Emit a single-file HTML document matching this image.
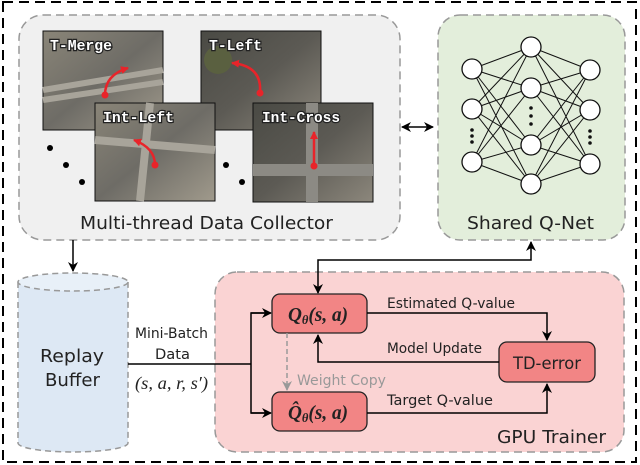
<!DOCTYPE html>
<html><head><meta charset="utf-8"><style>
html,body{margin:0;padding:0;background:#fff;}
svg{display:block;font-family:"DejaVu Sans","Liberation Sans",sans-serif;}
.lbl{font-family:"Liberation Mono",monospace;font-weight:bold;font-size:15px;fill:#fff;stroke:#222;stroke-width:2.5px;paint-order:stroke;}
</style></head><body>
<svg width="640" height="465" viewBox="0 0 640 465" xmlns="http://www.w3.org/2000/svg">
<defs>
<marker id="ah" markerWidth="10" markerHeight="10" refX="9" refY="5" orient="auto-start-reverse" markerUnits="userSpaceOnUse"><path d="M0,0 L10,5 L0,10 L3,5 z" fill="#000"/></marker>
<marker id="ahg" markerWidth="10" markerHeight="10" refX="9" refY="5" orient="auto" markerUnits="userSpaceOnUse"><path d="M0,0 L10,5 L0,10 L3,5 z" fill="#999"/></marker>
<marker id="ahr" markerWidth="8" markerHeight="8" refX="7" refY="4" orient="auto" markerUnits="userSpaceOnUse"><path d="M0,0 L8,4 L0,8 z" fill="#e8242a"/></marker>
<linearGradient id="img1" x1="0" y1="0" x2="1" y2="1"><stop offset="0" stop-color="#8a8578"/><stop offset="0.5" stop-color="#6e6c66"/><stop offset="1" stop-color="#a09a8c"/></linearGradient>
<linearGradient id="img2" x1="0" y1="0" x2="1" y2="1"><stop offset="0" stop-color="#4a4a44"/><stop offset="0.5" stop-color="#5c5a54"/><stop offset="1" stop-color="#8c877c"/></linearGradient>
</defs>
<rect x="3" y="2" width="633" height="460" fill="none" stroke="#000" stroke-width="2" stroke-dasharray="10,6"/>

<!-- collector -->
<rect x="19" y="15" width="381" height="225" rx="24" fill="#f0f0f0" stroke="#999" stroke-width="1.5" stroke-dasharray="8,5"/>
<rect x="43" y="31" width="120" height="99" fill="url(#img1)" stroke="#111" stroke-width="1"/>
<path d="M43,90 L163,70 M43,100 L163,82" stroke="#a8a49a" stroke-width="6"/>
<text x="50" y="50" class="lbl" textLength="62" lengthAdjust="spacingAndGlyphs">T-Merge</text>
<path d="M105,95 Q105,75 128,68" fill="none" stroke="#e8242a" stroke-width="2.5" marker-end="url(#ahr)"/>
<circle cx="105" cy="95" r="3.5" fill="#e8242a"/>
<rect x="201" y="31" width="120" height="99" fill="url(#img2)" stroke="#111" stroke-width="1"/>
<circle cx="218" cy="60" r="14" fill="#5a6040"/>
<text x="209" y="50" class="lbl" textLength="53" lengthAdjust="spacingAndGlyphs">T-Left</text>
<path d="M260,92 Q262,66 232,63" fill="none" stroke="#e8242a" stroke-width="2.5" marker-end="url(#ahr)"/>
<circle cx="260" cy="93" r="3.5" fill="#e8242a"/>
<rect x="95" y="103" width="120" height="98" fill="url(#img1)" stroke="#111" stroke-width="1"/>
<path d="M95,140 L215,150 M150,103 L140,201" stroke="#a8a49a" stroke-width="8"/>
<text x="103" y="122" class="lbl" textLength="71" lengthAdjust="spacingAndGlyphs">Int-Left</text>
<path d="M155,165 Q155,148 134,140" fill="none" stroke="#e8242a" stroke-width="2.5" marker-end="url(#ahr)"/>
<circle cx="155" cy="165" r="3.5" fill="#e8242a"/>
<rect x="253" y="103" width="120" height="99" fill="url(#img2)" stroke="#111" stroke-width="1"/>
<path d="M253,170 L373,170 M312,103 L312,202" stroke="#8c8a84" stroke-width="12"/>
<text x="262" y="122" class="lbl" textLength="78" lengthAdjust="spacingAndGlyphs">Int-Cross</text>
<path d="M314,166 L314,132" stroke="#e8242a" stroke-width="2.5" marker-end="url(#ahr)"/>
<circle cx="314" cy="166" r="3.5" fill="#e8242a"/>
<circle cx="50" cy="148" r="3" fill="#000"/><circle cx="66" cy="165" r="3" fill="#000"/><circle cx="82" cy="182" r="3" fill="#000"/>
<circle cx="226" cy="165" r="3" fill="#000"/><circle cx="242" cy="182" r="3" fill="#000"/>
<text x="80" y="229" font-size="18" textLength="253" lengthAdjust="spacingAndGlyphs" fill="#222">Multi-thread Data Collector</text>

<!-- double arrow -->
<line x1="402" y1="127" x2="433" y2="127" stroke="#000" stroke-width="1.5" marker-start="url(#ah)" marker-end="url(#ah)"/>

<!-- qnet -->
<rect x="438" y="15" width="187" height="225" rx="22" fill="#e3eedb" stroke="#999" stroke-width="1.5" stroke-dasharray="8,5"/>
<g stroke="#111" stroke-width="1">
<path d="M472,69L531,47M472,69L531,88M472,69L531,145M472,69L531,184M472,109L531,47M472,109L531,88M472,109L531,145M472,109L531,184M472,162L531,47M472,162L531,88M472,162L531,145M472,162L531,184M531,47L590,70M531,47L590,110M531,47L590,164M531,88L590,70M531,88L590,110M531,88L590,164M531,145L590,70M531,145L590,110M531,145L590,164M531,184L590,70M531,184L590,110M531,184L590,164"/>
</g>
<g fill="#fff" stroke="#111" stroke-width="1.3">
<circle cx="472" cy="69" r="10"/><circle cx="472" cy="109" r="10"/><circle cx="472" cy="162" r="10"/>
<circle cx="531" cy="47" r="10"/><circle cx="531" cy="88" r="10"/><circle cx="531" cy="145" r="10"/><circle cx="531" cy="184" r="10"/>
<circle cx="590" cy="70" r="10"/><circle cx="590" cy="110" r="10"/><circle cx="590" cy="164" r="10"/>
</g>
<g fill="#111"><circle cx="472" cy="130" r="1.8"/><circle cx="472" cy="136" r="1.8"/><circle cx="472" cy="142" r="1.8"/>
<circle cx="531" cy="108" r="1.8"/><circle cx="531" cy="116" r="1.8"/><circle cx="531" cy="124" r="1.8"/>
<circle cx="590" cy="131" r="1.8"/><circle cx="590" cy="137" r="1.8"/><circle cx="590" cy="143" r="1.8"/></g>
<text x="467" y="229" font-size="18" textLength="127" lengthAdjust="spacingAndGlyphs" fill="#222">Shared Q-Net</text>

<!-- collector -> buffer -->
<line x1="73" y1="240" x2="73" y2="271" stroke="#000" stroke-width="1.5" marker-end="url(#ah)"/>

<!-- buffer -->
<path d="M18,282 L18,443 A55,9 0 0 0 128,443 L128,282" fill="#dde8f4" stroke="#999" stroke-width="1.5" stroke-dasharray="6,4"/>
<ellipse cx="73" cy="282" rx="55" ry="9" fill="#e8f0f8" stroke="#999" stroke-width="1.5" stroke-dasharray="6,4"/>
<text x="40" y="362" font-size="18" textLength="64" lengthAdjust="spacingAndGlyphs" fill="#222">Replay</text>
<text x="45" y="386" font-size="18" textLength="55" lengthAdjust="spacingAndGlyphs" fill="#222">Buffer</text>
<text x="135" y="338" font-size="14" textLength="73" lengthAdjust="spacingAndGlyphs" fill="#222">Mini-Batch</text>
<text x="155" y="359" font-size="14" textLength="35" lengthAdjust="spacingAndGlyphs" fill="#222">Data</text>
<text x="135" y="389" font-size="18" textLength="73" lengthAdjust="spacingAndGlyphs" font-family="Liberation Serif,serif" font-style="italic" fill="#222">(s, a, r, s′)</text>

<!-- trainer -->
<rect x="215" y="272" width="409" height="180" rx="22" fill="#fad3d3" stroke="#999" stroke-width="1.5" stroke-dasharray="8,5"/>
<line x1="128" y1="364" x2="251" y2="364" stroke="#000" stroke-width="1.5"/>
<path d="M270,313 L251,313 L251,413 L270,413" fill="none" stroke="#000" stroke-width="1.5"/>
<line x1="251" y1="313" x2="271" y2="313" stroke="#000" stroke-width="1.5" marker-end="url(#ah)"/>
<line x1="251" y1="413" x2="271" y2="413" stroke="#000" stroke-width="1.5" marker-end="url(#ah)"/>
<path d="M318,293 L318,260 L531,260 L531,242" fill="none" stroke="#000" stroke-width="1.5" marker-start="url(#ah)" marker-end="url(#ah)"/>

<rect x="272" y="294" width="95" height="39" rx="8" fill="#f28585" stroke="#222" stroke-width="1.3"/>
<text x="288" y="321" font-size="20" textLength="60" lengthAdjust="spacingAndGlyphs" font-family="Liberation Serif,serif" font-style="italic" font-weight="bold" fill="#222">Q<tspan font-size="13" dy="3">θ</tspan><tspan dy="-3">(s, a)</tspan></text>
<rect x="272" y="392" width="95" height="39" rx="8" fill="#f28585" stroke="#222" stroke-width="1.3"/>
<text x="288" y="419" font-size="20" textLength="60" lengthAdjust="spacingAndGlyphs" font-family="Liberation Serif,serif" font-style="italic" font-weight="bold" fill="#222">Q̂<tspan font-size="13" dy="3">θ</tspan><tspan dy="-3">(s, a)</tspan></text>
<rect x="499" y="342" width="96" height="40" rx="8" fill="#f28585" stroke="#222" stroke-width="1.3"/>
<text x="513" y="369" font-size="17" textLength="68" lengthAdjust="spacingAndGlyphs" fill="#222">TD-error</text>

<path d="M367,313 L547,313 L547,340" fill="none" stroke="#000" stroke-width="1.5" marker-end="url(#ah)"/>
<text x="387" y="308" font-size="14" textLength="128" lengthAdjust="spacingAndGlyphs" fill="#222">Estimated Q-value</text>
<path d="M499,362 L318,362 L318,335" fill="none" stroke="#000" stroke-width="1.5" marker-end="url(#ah)"/>
<text x="387" y="353" font-size="14" textLength="95" lengthAdjust="spacingAndGlyphs" fill="#222">Model Update</text>
<path d="M367,413 L547,413 L547,384" fill="none" stroke="#000" stroke-width="1.5" marker-end="url(#ah)"/>
<text x="387" y="405" font-size="14" textLength="106" lengthAdjust="spacingAndGlyphs" fill="#222">Target Q-value</text>
<line x1="287" y1="333" x2="287" y2="390" stroke="#999" stroke-width="1.5" stroke-dasharray="5,3" marker-end="url(#ahg)"/>
<text x="297" y="385" font-size="14" textLength="89" lengthAdjust="spacingAndGlyphs" fill="#999">Weight Copy</text>
<text x="497" y="443" font-size="18" textLength="109" lengthAdjust="spacingAndGlyphs" fill="#222">GPU Trainer</text>
</svg>
</body></html>
